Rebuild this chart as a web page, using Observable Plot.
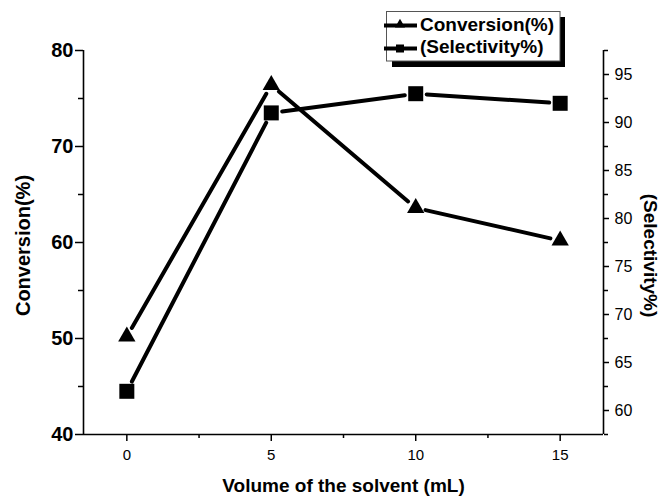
<!DOCTYPE html>
<html>
<head>
<meta charset="utf-8">
<script src="https://cdn.jsdelivr.net/npm/d3@7"></script>
<script src="https://cdn.jsdelivr.net/npm/@observablehq/plot@0.6"></script>
<style>
  html, body { margin: 0; padding: 0; background: white; }
</style>
</head>
<body>
<div id="chart"></div>
<script>
// ---- data ----
const volume = [0, 5, 10, 15];
const conversion = [50.2, 76.4, 63.6, 60.2];
const selectivity = [62, 91, 93, 92];
const seriesNames = ["Conversion(%)", "(Selectivity%)"];

// ---- ticks ----
const xTicks = [0, 5, 10, 15];
const xMinor = [2.5, 7.5, 12.5];
const leftTicks = [40, 50, 60, 70, 80];
const leftMinor = [45, 55, 65, 75];
const rightTicks = [60, 65, 70, 75, 80, 85, 90, 95];
const rightMinor = [57.5, 62.5, 67.5, 72.5, 77.5, 82.5, 87.5, 92.5, 97.5];
const rightOffset = 17.5; // right axis = left axis + 17.5

const FONT = "'Liberation Sans', Arial, Helvetica, sans-serif";

const convRows = volume.map((v, i) => ({x: v, y: conversion[i]}));
const selRows = volume.map((v, i) => ({x: v, y: selectivity[i] - rightOffset}));
const segs = rows => d3.pairs(rows).map(([a, b]) => ({x1: a.x, y1: a.y, x2: b.x, y2: b.y}));

const chart = Plot.plot({
  width: 661,
  height: 497,
  marginTop: 50,
  marginBottom: 63,
  marginLeft: 83,
  marginRight: 58,
  style: {fontFamily: FONT, background: "white", color: "black", overflow: "visible"},
  x: {domain: [-1.5, 16.5]},
  y: {domain: [40, 80]},
  marks: [
    // axis lines
    Plot.ruleX([-1.5], {strokeWidth: 1.6}),
    Plot.ruleX([16.5], {strokeWidth: 1.6}),
    Plot.ruleY([40], {strokeWidth: 1.6}),
    // x axis
    Plot.axisX({ticks: xTicks, tickSize: 7, tickPadding: 8, fontSize: 15, strokeWidth: 1.5, label: null}),
    Plot.axisX({ticks: xMinor, tickSize: 4, tickFormat: () => "", strokeWidth: 1.5, label: null}),
    // left axis
    Plot.axisY({ticks: leftTicks, tickSize: 8, tickPadding: 2, fontSize: 20, fontWeight: "bold", strokeWidth: 1.5, label: null}),
    Plot.axisY({ticks: leftMinor, tickSize: 5, tickFormat: () => "", strokeWidth: 1.5, label: null}),
    // right axis
    Plot.axisY({anchor: "right", ticks: rightTicks.map(d => d - rightOffset), tickFormat: d => String(Math.round(d + rightOffset)),
                tickSize: 5, tickPadding: 6, fontSize: 16, strokeWidth: 1.5, label: null}),
    Plot.axisY({anchor: "right", ticks: rightMinor.map(d => d - rightOffset), tickSize: 4, tickFormat: () => "", strokeWidth: 1.5, label: null}),
    // axis titles
    Plot.text(["Volume of the solvent (mL)"], {frameAnchor: "bottom", dy: 57, lineAnchor: "bottom", textAnchor: "middle", fontSize: 19, fontWeight: "bold"}),
    Plot.text(["Conversion(%)"], {frameAnchor: "left", dx: -59.5, dy: 3, rotate: -90, textAnchor: "middle", lineAnchor: "middle", fontSize: 20, fontWeight: "bold"}),
    Plot.text(["(Selectivity%)"], {frameAnchor: "right", dx: 47, dy: 13, rotate: 90, textAnchor: "middle", lineAnchor: "middle", fontSize: 19, fontWeight: "bold"}),
    // series lines with gaps at markers
    Plot.arrow(segs(convRows), {x1: "x1", y1: "y1", x2: "x2", y2: "y2", headLength: 0, inset: 10, stroke: "black", strokeWidth: 4, strokeLinecap: "round"}),
    Plot.arrow(segs(selRows), {x1: "x1", y1: "y1", x2: "x2", y2: "y2", headLength: 0, inset: 11, stroke: "black", strokeWidth: 4, strokeLinecap: "round"}),
    // markers
    Plot.dot(convRows, {x: "x", y: "y", symbol: "triangle", r: 6.43, fill: "black", stroke: "none"}),
    Plot.dot(selRows, {x: "x", y: "y", symbol: "square", r: 8.46, fill: "black", stroke: "none"})
  ]
});

document.getElementById("chart").appendChild(chart);

// ---- legend ----
const svg = d3.select(chart);
const lg = svg.append("g").attr("font-family", FONT).attr("text-anchor", "start");
lg.append("rect").attr("x", 392).attr("y", 17).attr("width", 173).attr("height", 50).attr("fill", "black");
lg.append("rect").attr("x", 386.5).attr("y", 11.5).attr("width", 173.5).attr("height", 49.5)
  .attr("fill", "white").attr("stroke", "#555").attr("stroke-width", 1);
const rowsY = [25.5, 48.5];
const baseY = [30.5, 52.5];
const syms = [d3.symbol(d3.symbolTriangle, 44)(), d3.symbol(d3.symbolSquare, 64)()];
seriesNames.forEach((name, i) => {
  lg.append("line").attr("x1", 384).attr("x2", 417).attr("y1", rowsY[i]).attr("y2", rowsY[i])
    .attr("stroke", "black").attr("stroke-width", 4);
  lg.append("path").attr("d", syms[i]).attr("transform", `translate(400,${rowsY[i] + (i === 0 ? -1 : 0)})`).attr("fill", "black");
  lg.append("text").attr("x", 420).attr("y", baseY[i]).attr("font-size", 19).attr("font-weight", "bold")
    .attr("text-anchor", "start").attr("fill", "black").text(name);
});
</script>
</body>
</html>
